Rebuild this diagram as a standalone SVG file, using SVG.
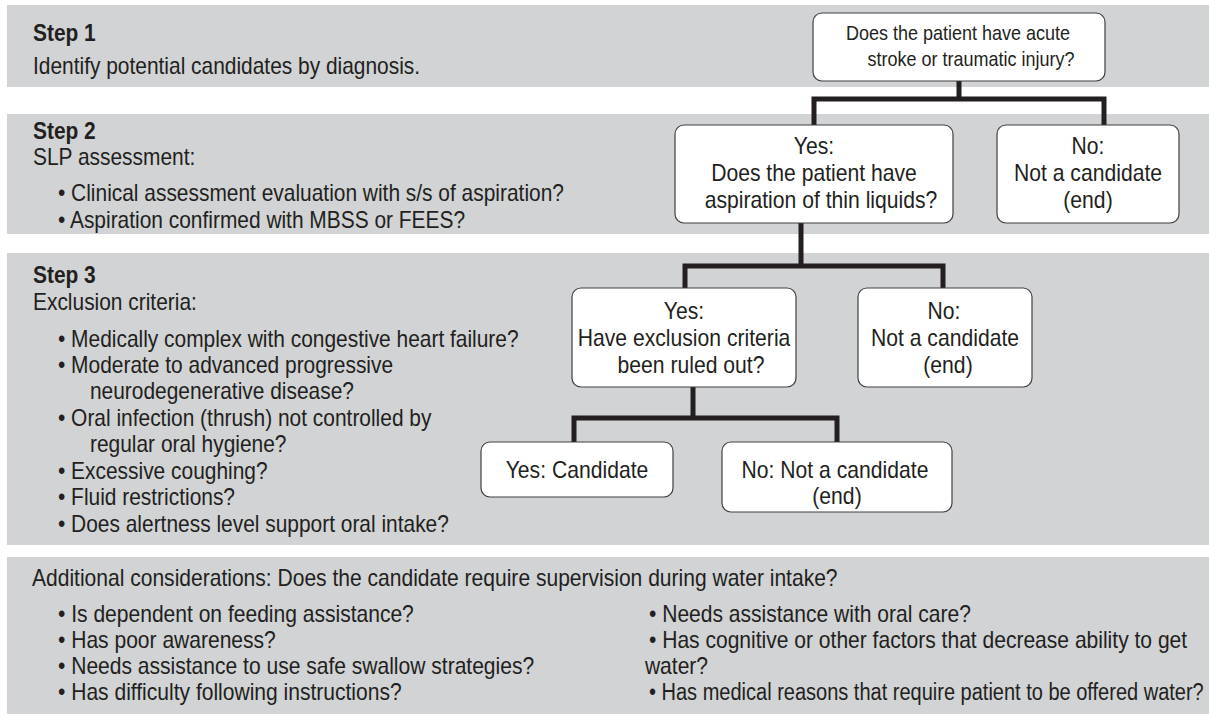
<svg xmlns="http://www.w3.org/2000/svg" width="1209" height="717" viewBox="0 0 1209 717">
<style>
.band{fill:#d1d3d4;}
text{font-family:"Liberation Sans",Arial,sans-serif;fill:#231f20;font-size:23px;transform-box:fill-box;transform-origin:0 0;transform:scaleX(0.91);}
.b{font-weight:bold;}
.bot{transform:scaleX(0.915);}
.bot2{transform:scaleX(0.87);}
.box{fill:#ffffff;stroke:#414042;stroke-width:1.2;}
.bt{text-anchor:middle;transform-origin:50% 50%;transform:scaleX(0.92);}
.rt{text-anchor:middle;font-size:20px;transform-origin:50% 50%;transform:scaleX(0.9);}
.conn{fill:none;stroke:#231f20;stroke-width:5;stroke-linejoin:miter;stroke-linecap:butt;}
</style>
<rect width="1209" height="717" fill="#ffffff"/>
<g id="bands">
<rect class="band" x="7" y="5" width="1202" height="82"/>
<rect class="band" x="7" y="114" width="1202" height="120"/>
<rect class="band" x="7" y="253" width="1202" height="292"/>
<rect class="band" x="7" y="557" width="1202" height="157"/>
</g>
<g id="step1">
<text class="b" x="33" y="41">Step 1</text>
<text x="33" y="74">Identify potential candidates by diagnosis.</text>
</g>
<g id="step2">
<text class="b" x="33" y="139">Step 2</text>
<text x="33" y="165">SLP assessment:</text>
<text x="58" y="201">• Clinical assessment evaluation with s/s of aspiration?</text>
<text x="58" y="228">• Aspiration confirmed with MBSS or FEES?</text>
</g>
<g id="step3">
<text class="b" x="33" y="283">Step 3</text>
<text x="33" y="310">Exclusion criteria:</text>
<text x="58" y="347">• Medically complex with congestive heart failure?</text>
<text x="58" y="373">• Moderate to advanced progressive</text>
<text x="90" y="399">neurodegenerative disease?</text>
<text x="58" y="426">• Oral infection (thrush) not controlled by</text>
<text x="90" y="452">regular oral hygiene?</text>
<text x="58" y="479">• Excessive coughing?</text>
<text x="58" y="505">• Fluid restrictions?</text>
<text x="58" y="532">• Does alertness level support oral intake?</text>
</g>
<g id="additional">
<text class="bot" x="32" y="586">Additional considerations: Does the candidate require supervision during water intake?</text>
<text class="bot" x="58" y="622">• Is dependent on feeding assistance?</text>
<text class="bot" x="58" y="648">• Has poor awareness?</text>
<text class="bot" x="58" y="674">• Needs assistance to use safe swallow strategies?</text>
<text class="bot" x="58" y="700">• Has difficulty following instructions?</text>
<text class="bot" x="649" y="622">• Needs assistance with oral care?</text>
<text class="bot" x="649" y="648">• Has cognitive or other factors that decrease ability to get</text>
<text class="bot" x="645" y="674">water?</text>
<text class="bot2" x="649" y="700">• Has medical reasons that require patient to be offered water?</text>
</g>
<g id="connectors">
<path class="conn" d="M959 81 V99 M814 125 V99 H1104 V125"/>
<path class="conn" d="M801 223 V266 M685 288 V266 H943 V288"/>
<path class="conn" d="M693 387 V418 M574 442 V418 H837 V442"/>
</g>
<g id="n-root">
<rect class="box" x="813" y="13" width="292" height="68" rx="9"/>
<text class="rt" x="958" y="40">Does the patient have acute</text>
<text class="rt" x="971" y="66">stroke or traumatic injury?</text>
</g>
<g id="n-yes1">
<rect class="box" x="675" y="125" width="278" height="98" rx="9"/>
<text class="bt" x="814" y="154">Yes:</text>
<text class="bt" x="814" y="181">Does the patient have</text>
<text class="bt" x="821" y="208">aspiration of thin liquids?</text>
</g>
<g id="n-no1">
<rect class="box" x="997" y="125" width="182" height="98" rx="9"/>
<text class="bt" x="1088" y="154">No:</text>
<text class="bt" x="1088" y="181">Not a candidate</text>
<text class="bt" x="1088" y="208">(end)</text>
</g>
<g id="n-yes2">
<rect class="box" x="572" y="288" width="224" height="99" rx="9"/>
<text class="bt" x="684" y="319">Yes:</text>
<text class="bt" x="684" y="346">Have exclusion criteria</text>
<text class="bt" x="691" y="373">been ruled out?</text>
</g>
<g id="n-no2">
<rect class="box" x="858" y="288" width="174" height="99" rx="9"/>
<text class="bt" x="944" y="319">No:</text>
<text class="bt" x="945" y="346">Not a candidate</text>
<text class="bt" x="948" y="373">(end)</text>
</g>
<g id="n-yes3">
<rect class="box" x="481" y="442" width="192" height="55" rx="9"/>
<text class="bt" x="577" y="478">Yes: Candidate</text>
</g>
<g id="n-no3">
<rect class="box" x="722" y="442" width="230" height="70" rx="9"/>
<text class="bt" x="835" y="478">No: Not a candidate</text>
<text class="bt" x="837" y="504">(end)</text>
</g>
</svg>
